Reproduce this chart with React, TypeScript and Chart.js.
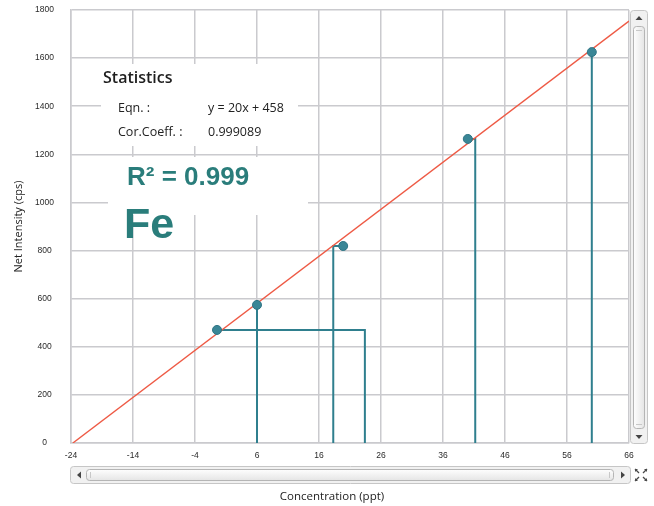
import React, { useEffect, useRef } from 'react';
import { Chart, registerables } from 'chart.js';

Chart.register(...registerables);

// ---- data ----
const xTicks = [-24, -14, -4, 6, 16, 26, 36, 46, 56, 66];
const yTicks = [0, 200, 400, 600, 800, 1000, 1200, 1400, 1600, 1800];
const stdConc = [-0.45, 6, 19.9, 40.0, 60.0];
const stdIntensity = [470, 574, 819, 1264, 1625];
const dropConc = [23.4, 6, 18.3, 41.2, 60.0];
const fitConc = [-23.7, 66];
const fitIntensity = [0, 1754];
const statLabels = ['Eqn. :', 'Cor.Coeff. :'];
const statValues = ['y = 20x + 458', '0.999089'];

const TEAL = '#2f7f8e';
const TEXT_TEAL = '#2a7d7b';
const GRID = '#cacace';

function rr(ctx: CanvasRenderingContext2D, x: number, y: number, w: number, h: number, r: number) {
  ctx.beginPath();
  ctx.moveTo(x + r, y);
  ctx.lineTo(x + w - r, y);
  ctx.quadraticCurveTo(x + w, y, x + w, y + r);
  ctx.lineTo(x + w, y + h - r);
  ctx.quadraticCurveTo(x + w, y + h, x + w - r, y + h);
  ctx.lineTo(x + r, y + h);
  ctx.quadraticCurveTo(x, y + h, x, y + h - r);
  ctx.lineTo(x, y + r);
  ctx.quadraticCurveTo(x, y, x + r, y);
  ctx.closePath();
}

function tri(ctx: CanvasRenderingContext2D, pts: number[][], color: string) {
  ctx.beginPath();
  ctx.moveTo(pts[0][0], pts[0][1]);
  ctx.lineTo(pts[1][0], pts[1][1]);
  ctx.lineTo(pts[2][0], pts[2][1]);
  ctx.closePath();
  ctx.fillStyle = color;
  ctx.fill();
}

const boxPlugin = {
  id: 'statsBox',
  beforeDatasetsDraw(chart: any) {
    const ctx: CanvasRenderingContext2D = chart.ctx;
    ctx.save();
    ctx.fillStyle = '#ffffff';
    ctx.fillRect(101, 64, 197, 82);
    ctx.fillRect(108, 157, 200, 58);
    ctx.fillStyle = '#1e1e1e';
    ctx.textBaseline = 'middle';
    ctx.textAlign = 'left';
    ctx.font = '600 16px "Open Sans"';
    ctx.fillText('Statistics', 103, 78);
    ctx.font = '12.5px "Open Sans"';
    ctx.fillStyle = '#222';
    ctx.fillText(statLabels[0], 118, 108);
    ctx.fillText(statValues[0], 208, 108);
    ctx.fillText(statLabels[1], 118, 132);
    ctx.fillText(statValues[1], 208, 132);
    ctx.fillStyle = TEXT_TEAL;
    ctx.font = 'bold 26px "Liberation Sans"';
    ctx.fillText('R² = 0.999', 127, 178);
    ctx.font = 'bold 43px "Liberation Sans"';
    ctx.fillText('Fe', 124, 226);
    ctx.restore();
  },
  afterDraw(chart: any) {
    const ctx: CanvasRenderingContext2D = chart.ctx;
    ctx.save();
    // x axis title
    ctx.fillStyle = '#222';
    ctx.font = '11.5px "Open Sans"';
    ctx.textAlign = 'center';
    ctx.textBaseline = 'middle';
    ctx.fillText('Concentration (ppt)', 332, 497);

    // horizontal scrollbar
    rr(ctx, 70.5, 466.5, 560, 17, 3);
    ctx.fillStyle = '#f1f1f1';
    ctx.fill();
    ctx.strokeStyle = '#c6c6c6';
    ctx.lineWidth = 1;
    ctx.stroke();
    tri(ctx, [[77, 475], [81, 471.5], [81, 478.5]], '#444');
    let g = ctx.createLinearGradient(0, 469, 0, 481);
    g.addColorStop(0, '#ffffff');
    g.addColorStop(1, '#e4e4e4');
    rr(ctx, 86.5, 469.5, 527, 11, 3);
    ctx.fillStyle = g;
    ctx.fill();
    ctx.strokeStyle = '#b5b5b5';
    ctx.stroke();
    ctx.strokeStyle = '#c8c8c8';
    ctx.beginPath();
    ctx.moveTo(90.5, 472); ctx.lineTo(90.5, 478);
    ctx.moveTo(609.5, 472); ctx.lineTo(609.5, 478);
    ctx.stroke();
    tri(ctx, [[625, 475], [621, 471.5], [621, 478.5]], '#444');

    // vertical scrollbar
    rr(ctx, 630.5, 10.5, 17, 433, 3);
    ctx.fillStyle = '#f1f1f1';
    ctx.fill();
    ctx.strokeStyle = '#c6c6c6';
    ctx.stroke();
    tri(ctx, [[639, 16], [635.5, 20], [642.5, 20]], '#444');
    g = ctx.createLinearGradient(633, 0, 645, 0);
    g.addColorStop(0, '#ffffff');
    g.addColorStop(1, '#e4e4e4');
    rr(ctx, 633.5, 26.5, 11, 402, 3);
    ctx.fillStyle = g;
    ctx.fill();
    ctx.strokeStyle = '#b5b5b5';
    ctx.stroke();
    ctx.strokeStyle = '#c8c8c8';
    ctx.beginPath();
    ctx.moveTo(636, 30.5); ctx.lineTo(642, 30.5);
    ctx.moveTo(636, 424.5); ctx.lineTo(642, 424.5);
    ctx.stroke();
    tri(ctx, [[639, 439], [635.5, 435], [642.5, 435]], '#444');

    // resize icon
    ctx.strokeStyle = '#4a4a4a';
    ctx.lineWidth = 1.3;
    const arrows = [
      [635, 469, 1, 1],
      [647, 469, -1, 1],
      [635, 481, 1, -1],
      [647, 481, -1, -1],
    ];
    arrows.forEach(([x, y, dx, dy]) => {
      ctx.beginPath();
      ctx.moveTo(x, y);
      ctx.lineTo(x + dx * 4, y + dy * 4);
      ctx.stroke();
      tri(ctx, [[x, y], [x + dx * 3, y], [x, y + dy * 3]], '#4a4a4a');
    });
    ctx.restore();
  },
};

export default function App() {
  const ref = useRef<HTMLCanvasElement>(null);
  useEffect(() => {
    if (!ref.current) return;
    const drops = stdConc.map((c, i) => ({
      type: 'line' as const,
      data: [
        { x: c, y: stdIntensity[i] },
        { x: dropConc[i], y: stdIntensity[i] },
        { x: dropConc[i], y: 0 },
      ],
      borderColor: TEAL,
      borderWidth: 2,
      pointRadius: 0,
      fill: false,
      tension: 0,
      order: 3,
    }));
    const chart = new Chart(ref.current, {
      type: 'scatter',
      data: {
        datasets: [
          ...drops,
          {
            type: 'line' as const,
            data: fitConc.map((c, i) => ({ x: c, y: fitIntensity[i] })),
            borderColor: '#ee5a45',
            borderWidth: 1.4,
            pointRadius: 0,
            fill: false,
            order: 2,
          },
          {
            type: 'scatter' as const,
            data: stdConc.map((c, i) => ({ x: c, y: stdIntensity[i] })),
            backgroundColor: '#3a8696',
            borderColor: '#2e7484',
            borderWidth: 1,
            pointRadius: 4.5,
            order: 1,
          },
        ] as any,
      },
      options: {
        animation: false,
        responsive: true,
        maintainAspectRatio: false,
        layout: { padding: { top: 10, right: 25, left: 0, bottom: 0 } },
        plugins: { legend: { display: false }, tooltip: { enabled: false } },
        scales: {
          x: {
            type: 'linear',
            min: xTicks[0],
            max: xTicks[xTicks.length - 1],
            afterBuildTicks: (s: any) => {
              s.ticks = xTicks.map((v) => ({ value: v }));
            },
            afterFit: (s: any) => {
              s.height = 63;
            },
            grid: { color: GRID, lineWidth: 1.5, drawTicks: false },
            border: { color: GRID, width: 1.5 },
            ticks: {
              padding: 8,
              maxRotation: 0,
              autoSkip: false,
              color: '#2a2a2a',
              font: { family: 'Liberation Sans', size: 8.5 },
              callback: (v: any) => String(v),
            },
          },
          y: {
            type: 'linear',
            min: yTicks[0],
            max: yTicks[yTicks.length - 1],
            afterBuildTicks: (s: any) => {
              s.ticks = yTicks.map((v) => ({ value: v }));
            },
            afterFit: (s: any) => {
              s.width = 71;
              s.paddingTop = 0;
              s.paddingBottom = 0;
            },
            grid: { color: GRID, lineWidth: 1.5, drawTicks: false },
            border: { color: GRID, width: 1.5 },
            title: {
              display: true,
              text: 'Net Intensity (cps)',
              color: '#222',
              font: { family: 'Open Sans', size: 11 },
              padding: { top: 12, bottom: 0 },
            },
            ticks: {
              padding: 17,
              crossAlign: 'center',
              autoSkip: false,
              color: '#2a2a2a',
              font: { family: 'Liberation Sans', size: 8.5 },
              callback: (v: any) => String(v),
            },
          },
        },
      },
      plugins: [boxPlugin],
    });
    return () => chart.destroy();
  }, []);
  return (
    <div style={{ position: 'fixed', left: 0, top: 0, width: 654, height: 506, background: '#fff' }}>
      <canvas ref={ref} />
    </div>
  );
}
